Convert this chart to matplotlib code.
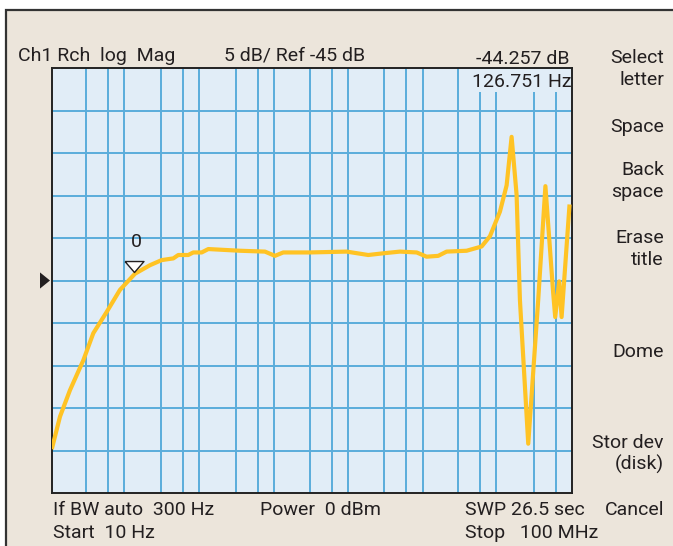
import math
import matplotlib
matplotlib.use("Agg")
import matplotlib.pyplot as plt
import matplotlib.patches as mpatches
import matplotlib.transforms as mtransforms

# trace, x in decades (log10 Hz), y in dB
trace_x = [1.004, 1.108, 1.242, 1.421, 1.556, 1.736, 1.915, 2.117, 2.319, 2.476,
           2.633, 2.700, 2.834, 2.902, 3.015, 3.104, 3.530, 3.867, 4.001, 4.113,
           4.472, 4.966, 5.257, 5.459, 5.684, 5.909, 6.043, 6.199, 6.312, 6.581,
           6.783, 6.895, 7.030, 7.120, 7.187, 7.254, 7.299, 7.411, 7.545, 7.642,
           7.747, 7.774, 7.828, 7.860, 7.965]
trace_db = [-64.6, -61.0, -57.9, -54.4, -51.2, -48.7, -46.1, -44.2, -43.2, -42.6,
            -42.4, -42.0, -42.0, -41.7, -41.7, -41.3, -41.5, -41.6, -42.1, -41.7,
            -41.7, -41.6, -42.0, -41.8, -41.6, -41.7, -42.2, -42.1, -41.6, -41.5,
            -41.0, -39.8, -36.9, -33.8, -28.1, -34.9, -47.3, -64.2, -47.3, -33.9,
            -46.5, -49.3, -45.1, -49.3, -36.3]

marker_hz = 126.751
marker_db = -44.257
ref_db = -45
db_per_div = 5

header_left = "Ch1 Rch  log  Mag"
header_mid = "5 dB/ Ref -45 dB"
marker_text = ["-44.257 dB", "126.751 Hz"]
footer = [("If BW auto  300 Hz", "Start  10 Hz"), ("Power  0 dBm", ""),
          ("SWP 26.5 sec", "Stop   100 MHz")]
softkeys = [("Select\nletter", 63), ("Space", 132), ("Back\nspace", 175),
            ("Erase\ntitle", 243), ("Dome", 357), ("Stor dev\n(disk)", 448),
            ("Cancel", 515)]

# grid line positions (decades)
vlines = [1.458, 1.754, 1.969, 2.467, 2.763, 2.978, 3.476, 3.773, 3.988,
          4.475, 4.764, 4.988, 5.468, 5.764, 5.989, 6.460, 6.760, 6.976,
          7.491, 7.783]

W, H = 673, 546
BEIGE = "#ECE5DB"
FACE = "#E1EDF7"
GRID = "#5AADDB"
TRACE = "#FFC324"
INK = "#231F20"
FONT = ["Roboto", "DejaVu Sans"]
FS = 14


def fx(px):
    return px / W


def fy(py):
    return 1 - py / H


fig = plt.figure(figsize=(W / 100, H / 100), dpi=100, facecolor="white")

# instrument frame
frame = mpatches.Rectangle((fx(5.5), fy(560)), 1.0, fy(9.5) - fy(560),
                           transform=fig.transFigure, facecolor=BEIGE,
                           edgecolor="#333333", linewidth=1.6, zorder=-5)
fig.patches.append(frame)

ax = fig.add_axes([fx(52), fy(493), fx(572) - fx(52), fy(68) - fy(493)])
ax.set_facecolor(FACE)
ax.set_xlim(1, 8)
ax.set_ylim(ref_db - 5 * db_per_div, ref_db + 5 * db_per_div)

for v in vlines:
    ax.axvline(v, color=GRID, lw=1.4, zorder=1)
for k in range(1, 10):
    ax.axhline(ref_db - 25 + k * db_per_div, color=GRID, lw=1.4, zorder=1)

ax.set_xticks([])
ax.set_yticks([])
for s in ax.spines.values():
    s.set_color("#222222")
    s.set_linewidth(1.4)

ax.plot(trace_x, trace_db, color=TRACE, lw=3.0, solid_joinstyle="round", zorder=3)

# marker triangle and label
mx = math.log10(marker_hz)
tri = [(-9.5, 11), (9.5, 11), (0, 0), (-9.5, 11)]
ax.plot([mx], [marker_db + 0.2], marker=tri, markersize=15.8, markerfacecolor="white",
        markeredgecolor=INK, markeredgewidth=1.0, zorder=4, linestyle="none")
ax.annotate("0", (mx, marker_db), xytext=(1.5, 17), textcoords="offset points",
            ha="center", va="bottom", fontsize=FS, family=FONT, color=INK, zorder=4)

# reference level arrow
blend = mtransforms.blended_transform_factory(ax.transAxes, ax.transData)
ax.add_patch(mpatches.Polygon([(-12 / 520, ref_db + 0.95), (-12 / 520, ref_db - 0.95),
                               (-2 / 520, ref_db)], closed=True, transform=blend,
                              clip_on=False, facecolor=INK, edgecolor="none"))

# box behind marker readout
ax.add_patch(mpatches.Rectangle(((477 - 52) / 520, 1 - 24 / 425), 1, 24 / 425,
                                transform=ax.transAxes, facecolor=FACE,
                                edgecolor="none", zorder=1.6))

txt = dict(family=FONT, fontsize=FS, color=INK, va="baseline")
fig.text(fx(18), fy(61), header_left, **txt)
fig.text(fx(224), fy(61), header_mid, **txt)
fig.text(fx(570), fy(64), marker_text[0], ha="right", **txt)
fig.text(fx(572), fy(87), marker_text[1], ha="right", **txt)

for (top, bottom), left in zip(footer, [53, 260, 465]):
    fig.text(fx(left), fy(515), top, **txt)
    fig.text(fx(left), fy(538), bottom, **txt)

for label, base in softkeys:
    lines = label.split("\n")
    for i, line in enumerate(lines):
        fig.text(fx(664), fy(base + 22 * i), line, ha="right", **txt)

fig.savefig("out.png", dpi=100, facecolor="white")
